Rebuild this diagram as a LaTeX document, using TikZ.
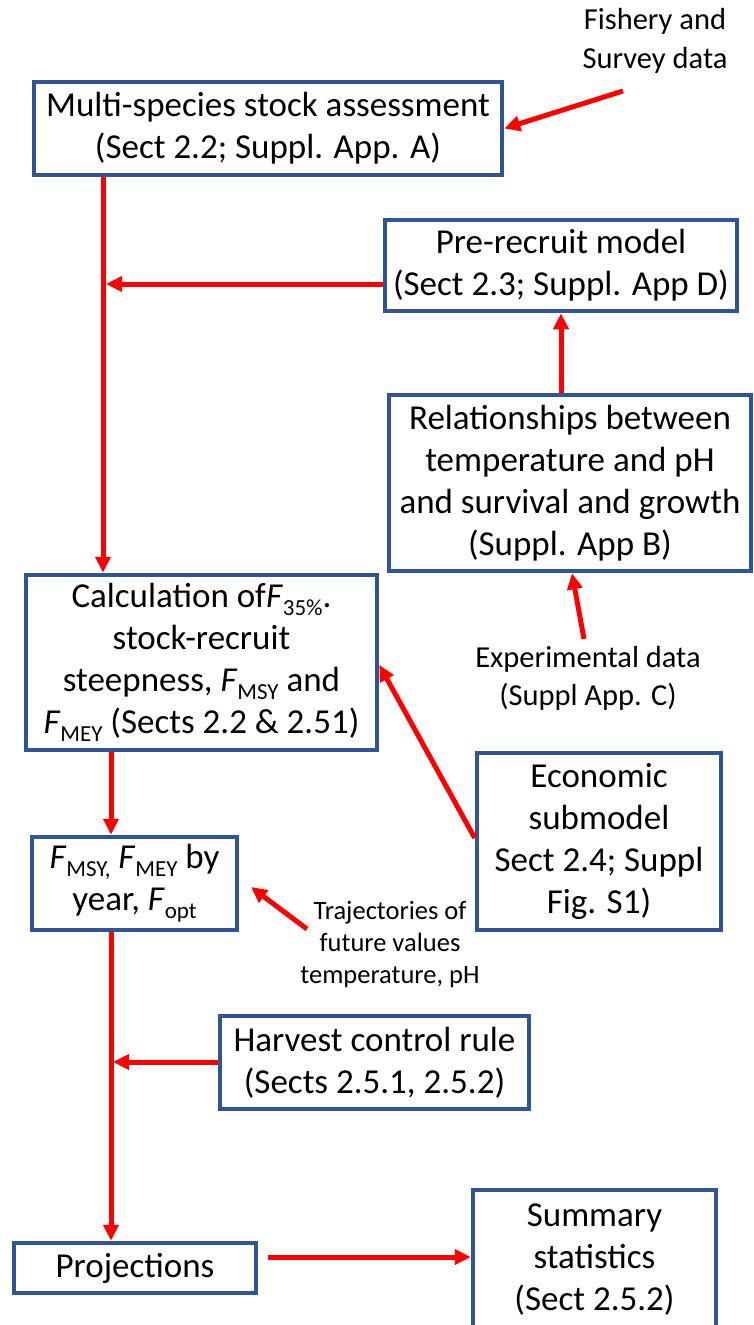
\documentclass[tikz,border=0pt]{standalone}
\usepackage{fontspec}
\setmainfont{Carlito}
\usetikzlibrary{arrows.meta,calc}
\definecolor{boxblue}{RGB}{47,85,151}
\definecolor{arrred}{RGB}{255,0,0}
\newcommand{\Fsb}[1]{\textit{F}\raisebox{-0.22em}{\fontsize{23}{23}\selectfont #1}}
\begin{document}
\begin{tikzpicture}[x=1pt,y=-1pt,
  box/.style={draw=boxblue,line width=4.5pt,rectangle,inner sep=0pt,align=center,font=\fontsize{35}{42}\selectfont,fill=white},
  lbl/.style={inner sep=0pt,align=center,font=\fontsize{30.5}{38.5}\selectfont},
  arr/.style={draw=arrred,line width=5pt,-{Triangle[length=16pt,width=15pt]}}]
\fill[white] (0,0) rectangle (754,1325);
\clip (0,0) rectangle (754,1325);

\node[box,minimum width=468pt,minimum height=93pt] (A) at (268,128.5) {Multi-species stock assessment\\(Sect 2.2; Suppl. App. A)};
\node[box,minimum width=352pt,minimum height=91pt] (B) at (561,265.5) {Pre-recruit model\\(Sect 2.3; Suppl. App D)};
\node[box,minimum width=362pt,minimum height=176pt] (C) at (570,483) {Relationships between\\temperature and pH\\and survival and growth\\(Suppl. App B)};
\node[box,minimum width=351pt,minimum height=175pt] (D) at (201.5,662.5) {Calculation of\Fsb{35\%}.\\stock-recruit\\steepness, \Fsb{MSY} and\\\Fsb{MEY} (Sects 2.2 \& 2.51)};
\node[box,minimum width=244pt,minimum height=177pt] (E) at (599,841.5) {Economic\\submodel\\Sect 2.4; Suppl\\Fig. S1)};
\node[box,minimum width=205pt,minimum height=93pt] (F) at (134.5,883.5) {\Fsb{MSY,} \Fsb{MEY} by\\year, \Fsb{opt}};
\node[box,minimum width=309pt,minimum height=93pt] (H) at (374.5,1062.5) {Harvest control rule\\(Sects 2.5.1, 2.5.2)};
\node[box,minimum width=242pt,minimum height=50pt] (G) at (135,1268) {Projections};
\node[box,minimum width=243pt,minimum height=140pt] (I) at (594.5,1260) {Summary\\statistics\\(Sect 2.5.2)};

\node[lbl] (fish) at (655,41) {Fishery and\\Survey data};
\node[lbl] (exp) at (588,678.5) {Experimental data\\(Suppl App. C)};
\node[lbl,font=\fontsize{26.5}{32}\selectfont] (traj) at (390,945) {Trajectories of\\future values\\temperature, pH};

\coordinate (fT) at (623,91);
\coordinate (v1) at (103,0);
\coordinate (bj) at (106,284);
\coordinate (v2) at (561,0);
\coordinate (eT) at (584,639);
\coordinate (eH) at (572,575);
\coordinate (ecT) at (473,838);
\coordinate (ecH) at (380,665);
\coordinate (v3) at (111,0);
\coordinate (tT) at (307,929);
\coordinate (tH) at (251,887);
\coordinate (hj) at (113,1062);
\coordinate (gT) at (268,1257);

\draw[arr] (fT) -- (A.east);
\draw[arr] (A.south -| v1) -- (D.north -| v1);
\draw[arr] (B.west |- bj) -- (bj);
\draw[arr] (C.north -| v2) -- (B.south -| v2);
\draw[arr] (eT) -- (C.south -| eH);
\draw[arr] (E.west |- ecT) -- (D.east |- ecH);
\draw[arr] (D.south -| v3) -- (F.north -| v3);
\draw[arr] (tT) -- (tH);
\draw[arr] (F.south -| v3) -- (G.north -| v3);
\draw[arr] (H.west |- hj) -- (hj);
\draw[arr] (gT) -- (I.west |- gT);
\end{tikzpicture}
\end{document}
